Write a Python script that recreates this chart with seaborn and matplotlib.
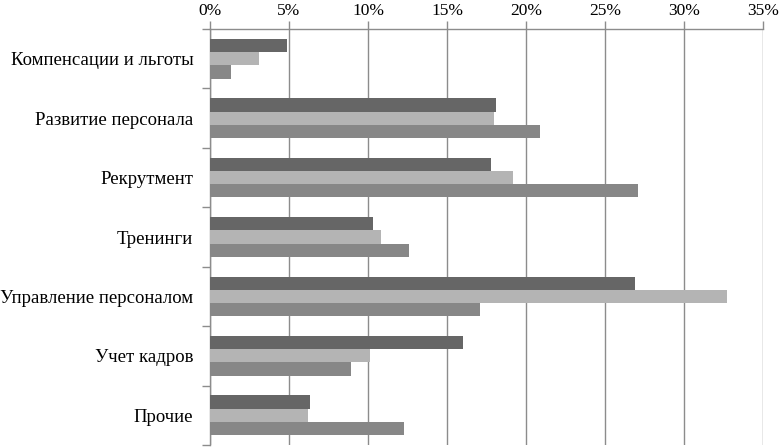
import matplotlib
matplotlib.use("Agg")
import matplotlib.pyplot as plt
from matplotlib.ticker import FuncFormatter, FixedLocator
import seaborn as sns
import pandas as pd
import numpy as np

# categories and series values (percent)
categories = ["Компенсации и льготы", "Развитие персонала", "Рекрутмент",
              "Тренинги", "Управление персоналом", "Учет кадров", "Прочие"]
series_names = ["Ряд 1", "Ряд 2", "Ряд 3"]
series_1 = [4.9, 18.1, 17.8, 10.3, 26.9, 16.0, 6.3]
series_2 = [3.1, 18.0, 19.2, 10.8, 32.7, 10.1, 6.2]
series_3 = [1.3, 20.9, 27.1, 12.6, 17.1, 8.9, 12.3]
x_ticks = [0, 5, 10, 15, 20, 25, 30, 35]

colors = ["#666666", "#b4b4b4", "#878787"]
grid_col = "#8c8c8c"

df = pd.DataFrame({
    "category": categories * 3,
    "series": np.repeat(series_names, len(categories)),
    "value": series_1 + series_2 + series_3,
})

sns.set_theme(style="white")
plt.rcParams["font.family"] = ["Liberation Serif", "DejaVu Serif"]

fig = plt.figure(figsize=(7.8, 4.48), dpi=100)
ax = fig.add_axes([210 / 780, 3 / 448, 553 / 780, 416 / 448])

sns.barplot(data=df, x="value", y="category", hue="series", orient="h",
            order=categories, hue_order=series_names, palette=colors,
            width=0.67, gap=0, saturation=1, legend=False, ax=ax, zorder=3,
            linewidth=0)

ax.set_xlim(0, 35)
ax.set_ylim(6.5, -0.5)
ax.set_xlabel("")
ax.set_ylabel("")

ax.xaxis.tick_top()
ax.xaxis.set_major_locator(FixedLocator(x_ticks))
ax.xaxis.set_major_formatter(FuncFormatter(lambda v, p: f"{v:.0f}%"))
ax.tick_params(axis="x", which="major", direction="out", length=6, width=1,
               color=grid_col, labelsize=12.5, pad=1, labelcolor="black",
               top=True, bottom=False)
ax.grid(axis="x", color=grid_col, linewidth=1, zorder=0)
ax.grid(axis="y", visible=False)

# left ticks at category boundaries
ax.yaxis.set_minor_locator(FixedLocator(np.arange(-0.5, 7.0, 1.0)))
ax.tick_params(axis="y", which="major", length=0, labelsize=13.5, pad=12,
               labelcolor="black")
ax.tick_params(axis="y", which="minor", direction="out", length=6, width=1,
               color=grid_col, left=True)

for side in ["right", "bottom"]:
    ax.spines[side].set_visible(False)
for side in ["left", "top"]:
    ax.spines[side].set_color(grid_col)
    ax.spines[side].set_linewidth(1)

fig.savefig("out.png", dpi=100)
